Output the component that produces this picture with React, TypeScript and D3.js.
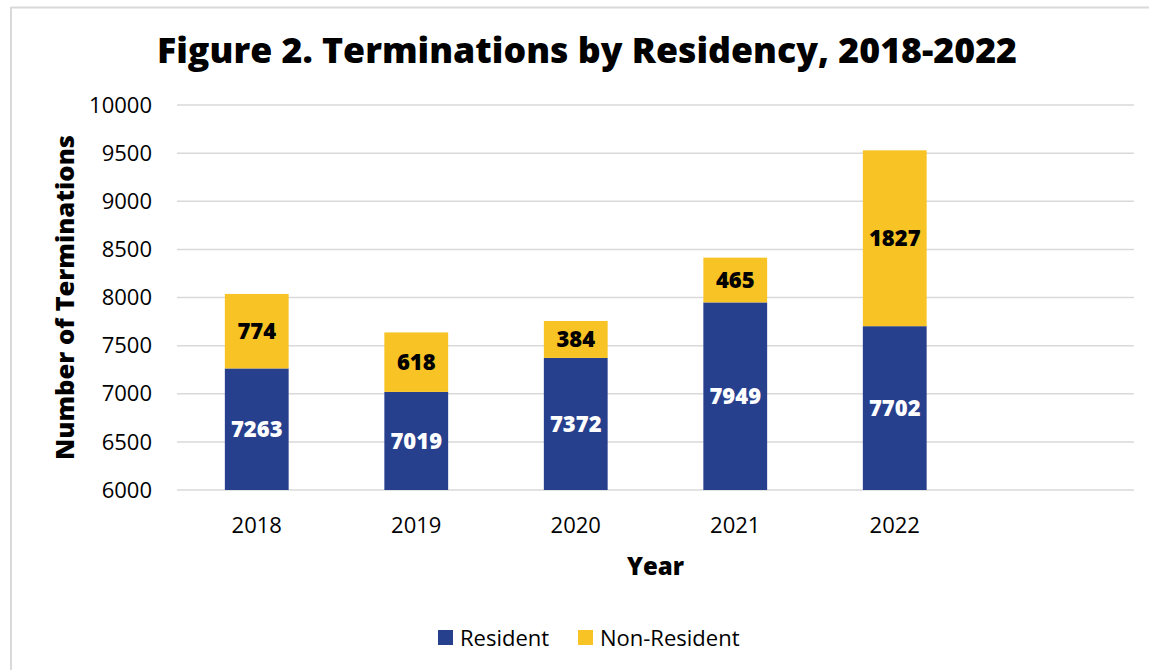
import React from "react";
import * as d3 from "d3";

const categories = ["2018", "2019", "2020", "2021", "2022", ""];
const residentValues = [7263, 7019, 7372, 7949, 7702];
const nonResidentValues = [774, 618, 384, 465, 1827];
const yTicks = [6000, 6500, 7000, 7500, 8000, 8500, 9000, 9500, 10000];
const seriesNames = ["Resident", "Non-Resident"];
const seriesColors = ["#27408E", "#F7C325"];

const W = 1149;
const H = 670;
const left = 177;
const right = 1134;
const top = 105;
const bottom = 490;

export default function App() {
  const x = d3
    .scaleBand<string>()
    .domain(categories)
    .range([left, right])
    .paddingInner(0.6)
    .paddingOuter(0.3);
  const y = d3.scaleLinear().domain([6000, 10000]).range([bottom, top]);

  const stacked = residentValues.map((r, i) => ({
    cat: categories[i],
    r,
    n: nonResidentValues[i],
  }));

  const bodyFont = "'Open Sans', 'Noto Sans', sans-serif";

  return (
    <svg
      width={W}
      height={H}
      style={{ position: "fixed", left: 0, top: 0, display: "block", background: "#fff" }}
    >
      <rect x={0} y={0} width={W} height={H} fill="#fff" />
      <line x1={11} y1={7.5} x2={W + 5} y2={7.5} stroke="#d9d9d9" strokeWidth={2} />
      <line x1={11} y1={7} x2={11} y2={H + 5} stroke="#d9d9d9" strokeWidth={2} />

      <text
        x={587}
        y={63}
        textAnchor="middle"
        fontFamily="'Open Sans', Lato, sans-serif"
        fontWeight={800}
        fontSize={35}
        textLength={860}
        lengthAdjust="spacingAndGlyphs"
        fill="#000"
      >
        Figure 2. Terminations by Residency, 2018-2022
      </text>

      {yTicks.map((t) => (
        <g key={t}>
          <line x1={left} x2={right} y1={y(t)} y2={y(t)} stroke="#d9d9d9" strokeWidth={1.5} />
          <text
            x={152}
            y={y(t)}
            dy="0.35em"
            textAnchor="end"
            fontFamily={bodyFont}
            fontSize={22}
            fill="#000"
          >
            {t}
          </text>
        </g>
      ))}

      {stacked.map((d) => {
        const bx = x(d.cat)!;
        const bw = x.bandwidth();
        const yR = y(d.r);
        const yT = y(d.r + d.n);
        return (
          <g key={d.cat}>
            <rect x={bx} y={yR} width={bw} height={y(6000) - yR} fill={seriesColors[0]} />
            <rect x={bx} y={yT} width={bw} height={yR - yT} fill={seriesColors[1]} />
            <text
              x={bx + bw / 2}
              y={(yR + y(6000)) / 2}
              dy="0.36em"
              textAnchor="middle"
              fontFamily={bodyFont}
              fontWeight={800}
              fontSize={22}
              fill="#fff"
            >
              {d.r}
            </text>
            <text
              x={bx + bw / 2}
              y={(yR + yT) / 2}
              dy="0.36em"
              textAnchor="middle"
              fontFamily={bodyFont}
              fontWeight={800}
              fontSize={22}
              fill="#000"
            >
              {d.n}
            </text>
          </g>
        );
      })}

      {categories.map((c) => (
        <text
          key={"x" + c}
          x={x(c)! + x.bandwidth() / 2}
          y={533}
          textAnchor="middle"
          fontFamily={bodyFont}
          fontSize={22}
          fill="#000"
        >
          {c}
        </text>
      ))}

      <text
        x={(left + right) / 2}
        y={575}
        textAnchor="middle"
        fontFamily={bodyFont}
        fontWeight={800}
        fontSize={24}
        textLength={57}
        lengthAdjust="spacingAndGlyphs"
        fill="#000"
      >
        Year
      </text>

      <text
        transform={`translate(74, 297.5) rotate(-90)`}
        textAnchor="middle"
        fontFamily={bodyFont}
        fontWeight={800}
        fontSize={24}
        textLength={325}
        lengthAdjust="spacingAndGlyphs"
        fill="#000"
      >
        Number of Terminations
      </text>

      <g>
        <rect x={438} y={630} width={15} height={15} fill={seriesColors[0]} />
        <text x={460} y={646} fontFamily={bodyFont} fontSize={22} fill="#000">
          {seriesNames[0]}
        </text>
        <rect x={578} y={630} width={15} height={15} fill={seriesColors[1]} />
        <text x={600} y={646} fontFamily={bodyFont} fontSize={22} fill="#000">
          {seriesNames[1]}
        </text>
      </g>
    </svg>
  );
}
